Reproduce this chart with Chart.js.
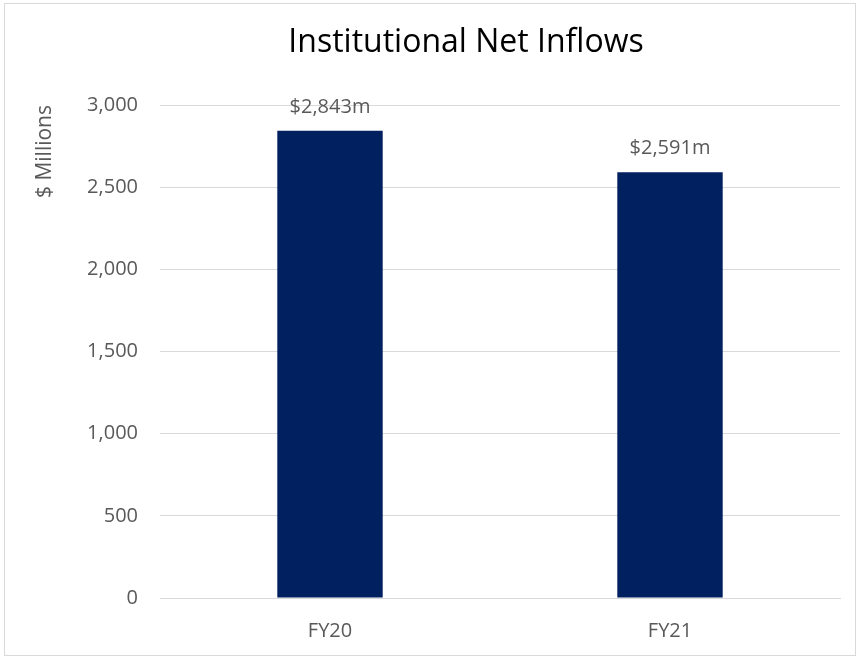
<!DOCTYPE html>
<html>
<head>
<meta charset="utf-8">
<script src="https://cdn.jsdelivr.net/npm/chart.js@4"></script>
<style>
    body { margin: 0; background: #fff; }
    #frame { position: absolute; left: 4px; top: 3px; width: 850px; height: 651px; border: 1px solid #d9d9d9; }
    #wrap { position: absolute; left: 0; top: 0; width: 859px; height: 658px; }
</style>
</head>
<body>
<div id="frame"></div>
<div id="wrap"><canvas id="chart" width="859" height="658"></canvas></div>
<script>
// Chart data
const categories = ['FY20', 'FY21'];
const inflows = [2843, 2591];
const yTicks = [0, 500, 1000, 1500, 2000, 2500, 3000];
const chartTitle = 'Institutional Net Inflows';

const FONT = '"Open Sans", Lato, sans-serif';
const TEXT = '#595959';

// Title drawn by hand so it can sit off-centre like the original
const topTitle = {
    id: 'topTitle',
    afterDraw(chart) {
        const ctx = chart.ctx;
        ctx.save();
        ctx.font = '32px ' + FONT;
        ctx.fillStyle = '#000';
        ctx.textAlign = 'center';
        ctx.textBaseline = 'middle';
        ctx.fillText(chartTitle, 466, 43);
        ctx.restore();
    }
};

// Draw "$2,843m" labels above each bar
const barLabels = {
    id: 'barLabels',
    afterDatasetsDraw(chart) {
        const ctx = chart.ctx;
        const meta = chart.getDatasetMeta(0);
        ctx.save();
        ctx.font = '20px ' + FONT;
        ctx.fillStyle = TEXT;
        ctx.textAlign = 'center';
        ctx.textBaseline = 'alphabetic';
        meta.data.forEach((bar, i) => {
            ctx.fillText('$' + inflows[i].toLocaleString('en-US') + 'm', bar.x, bar.y - 18);
        });
        ctx.restore();
    }
};

const ctx = document.getElementById('chart').getContext('2d');
new Chart(ctx, {
    type: 'bar',
    data: {
        labels: categories,
        datasets: [{
            data: inflows,
            backgroundColor: '#002060',
            barPercentage: 0.31,
            categoryPercentage: 1
        }]
    },
    options: {
        responsive: false,
        animation: false,
        devicePixelRatio: 1,
        layout: { padding: { left: 0, right: 19, top: 105, bottom: 0 } },
        plugins: {
            legend: { display: false },
            tooltip: { enabled: false },
            title: { display: false }
        },
        scales: {
            x: {
                grid: { display: false, drawTicks: false },
                border: { color: '#d9d9d9' },
                ticks: { color: TEXT, font: { family: FONT, size: 20 }, padding: 21 },
                afterFit(scale) { scale.height = 60; }
            },
            y: {
                min: 0,
                max: 3000,
                afterBuildTicks(scale) { scale.ticks = yTicks.map(v => ({ value: v })); },
                grid: { color: '#d9d9d9', drawTicks: false },
                border: { display: false },
                ticks: {
                    color: TEXT,
                    font: { family: FONT, size: 20 },
                    padding: 22,
                    callback: v => v.toLocaleString('en-US')
                },
                title: {
                    display: true,
                    text: '$ Millions',
                    align: 'end',
                    color: TEXT,
                    font: { family: FONT, size: 21 },
                    padding: { top: 32, bottom: 0 }
                },
                afterFit(scale) { scale.width = 160; }
            }
        }
    },
    plugins: [barLabels, topTitle]
});
</script>
</body>
</html>
